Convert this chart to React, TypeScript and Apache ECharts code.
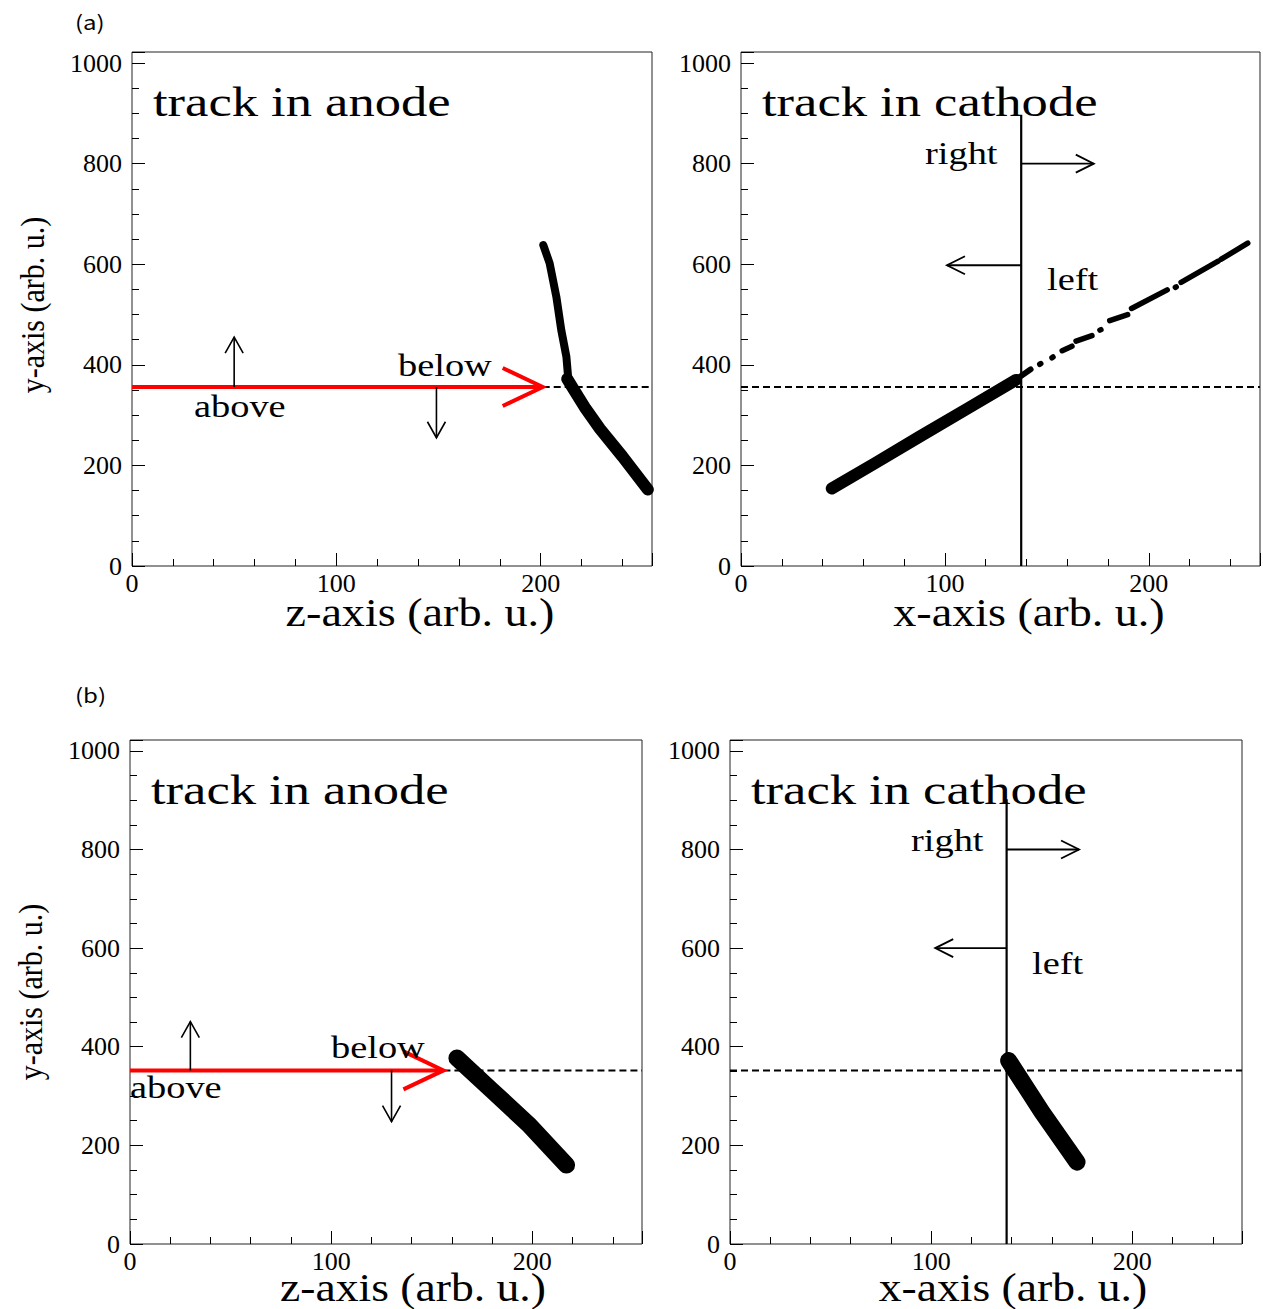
import React, { useEffect, useRef } from "react";
import * as echarts from "echarts";

// ---------- axis ranges & ticks ----------
const X_MAX = 254.5;
const Y_MAX = 1022;
const X_MINOR = 20;
const X_MAJOR = 100;
const Y_MINOR = 50;
const Y_MAJOR = 200;

// ---------- texts ----------
const panelTags = ["(a)", "(b)"];
const panelTitles = ["track in anode", "track in cathode", "track in anode", "track in cathode"];
const xTitles = ["z-axis (arb. u.)", "x-axis (arb. u.)", "z-axis (arb. u.)", "x-axis (arb. u.)"];
const yTitle = "y-axis (arb. u.)";

// ---------- cut levels / split lines ----------
const cutA = 356;
const cutB = 352;
const redTipA = 201;
const redTipB = 155.8;
const splitXA = 137.4;
const splitXB = 137.5;

// ---------- tracks (a) ----------
const anodeA_steep = [[201.3, 638], [204.4, 602], [207.7, 535], [210.1, 469], [212.6, 416], [213.4, 378]];
const anodeA_bend = [[213, 372], [216, 352], [222, 313], [229, 273], [240, 218], [252.5, 152]];
const cathodeA_dense = [[44.5, 154], [66, 205], [87.5, 257], [111, 313], [134.8, 370]];
const cathodeA_thin = [[130, 360], [136, 374], [142, 391]];
const cathodeA_sparse = [
  [146.5, 401, 147, 402.5],
  [152.5, 414, 153, 415.5],
  [157.5, 428, 162.3, 437],
  [164.3, 447, 172.1, 458],
  [176, 469, 176.5, 470],
  [180.8, 488, 189.6, 500],
  [191.5, 512, 209, 549],
  [213, 554, 213.4, 555],
  [215.8, 564, 234, 606],
  [235.5, 610, 248.5, 642],
];

// ---------- tracks (b) ----------
const anodeB = [[162.5, 377], [180, 311], [198, 243], [217, 160]];
const cathodeB = [[138.5, 372], [155, 268], [172.5, 166]];

// ---------- guide lines & arrows [x1, y1, x2, y2] ----------
const anodeA_dashed = [[redTipA, cutA, X_MAX, cutA]];
const anodeA_red = [[0, cutA, redTipA, cutA]];
const anodeA_arrows = [[50, cutA, 50, 455], [149, cutA, 149, 255]];
const cathodeA_dashed = [[0, cutA, X_MAX, cutA]];
const cathodeA_split = [[splitXA, 0, splitXA, 897]];
const cathodeA_arrows = [[splitXA, 800, 173, 800], [splitXA, 598, 101, 598]];

const anodeB_dashed = [[redTipB, cutB, X_MAX, cutB]];
const anodeB_red = [[0, cutB, redTipB, cutB]];
const anodeB_arrows = [[30, cutB, 30, 451], [130, cutB, 130, 248]];
const cathodeB_dashed = [[0, cutB, X_MAX, cutB]];
const cathodeB_split = [[splitXB, 0, splitXB, 902]];
const cathodeB_arrows = [[splitXB, 800, 173.5, 800], [splitXB, 600, 102, 600]];

// ---------- layout ----------
const GRIDS = [
  { left: 132, top: 52, width: 520, height: 514 },
  { left: 741, top: 52, width: 521, height: 514 },
  { left: 130, top: 740, width: 512, height: 504 },
  { left: 730, top: 740, width: 512, height: 504 },
];

const SERIF = "Liberation Serif";
const SANS = "Noto Sans CJK JP";

type SegStyle = { color: string; width: number; dash?: number[]; headL?: number; headW?: number; cap?: string };

function segRenderer(s: SegStyle) {
  return (_params: any, api: any) => {
    const p1 = api.coord([api.value(0), api.value(1)]);
    const p2 = api.coord([api.value(2), api.value(3)]);
    const style: any = { stroke: s.color, lineWidth: s.width, lineCap: s.cap || "butt", fill: "none" };
    if (s.dash) style.lineDash = s.dash;
    const children: any[] = [
      { type: "line", shape: { x1: p1[0], y1: p1[1], x2: p2[0], y2: p2[1] }, style },
    ];
    if (s.headL) {
      const dx = p2[0] - p1[0];
      const dy = p2[1] - p1[1];
      const len = Math.hypot(dx, dy) || 1;
      const ux = dx / len, uy = dy / len;
      const nx = -uy, ny = ux;
      const L = s.headL, W = s.headW || 8;
      children.push({
        type: "polyline",
        shape: {
          points: [
            [p2[0] - ux * L + nx * W, p2[1] - uy * L + ny * W],
            [p2[0], p2[1]],
            [p2[0] - ux * L - nx * W, p2[1] - uy * L - ny * W],
          ],
        },
        style: { stroke: s.color, lineWidth: s.width, fill: "none", lineJoin: "miter" },
      });
    }
    return { type: "group", children };
  };
}

function segSeries(gi: number, data: number[][], s: SegStyle) {
  return {
    type: "custom",
    xAxisIndex: gi * 2,
    yAxisIndex: gi * 2,
    data,
    encode: { x: [0, 2], y: [1, 3] },
    renderItem: segRenderer(s),
    silent: true,
    z: 5,
  };
}

function trackSeries(gi: number, data: number[][], width: number) {
  return {
    type: "line",
    xAxisIndex: gi * 2,
    yAxisIndex: gi * 2,
    data,
    symbol: "none",
    showSymbol: false,
    silent: true,
    clip: true,
    z: 4,
    lineStyle: { color: "#000", width, cap: "round", join: "round" },
  };
}

function xAxes(gi: number) {
  const base = {
    gridIndex: gi,
    type: "value",
    position: "bottom",
    min: 0,
    max: X_MAX,
    axisLine: { show: false },
    splitLine: { show: false },
  };
  return [
    {
      ...base,
      interval: X_MINOR,
      axisTick: { inside: true, length: 7, lineStyle: { color: "#000", width: 1 } },
      axisLabel: {
        formatter: (v: number) => (Math.abs(v % X_MAJOR) < 1e-6 ? String(v) : ""),
        fontFamily: SERIF,
        fontSize: 26,
        color: "#000",
        margin: 4,
      },
    },
    {
      ...base,
      interval: X_MAJOR,
      axisTick: { inside: true, length: 13, lineStyle: { color: "#000", width: 1 } },
      axisLabel: { show: false },
    },
  ];
}

function yAxes(gi: number) {
  const base = {
    gridIndex: gi,
    type: "value",
    position: "left",
    min: 0,
    max: Y_MAX,
    axisLine: { show: false },
    splitLine: { show: false },
  };
  return [
    {
      ...base,
      interval: Y_MINOR,
      axisTick: { inside: true, length: 7, lineStyle: { color: "#000", width: 1 } },
      axisLabel: {
        formatter: (v: number) => (Math.abs(v % Y_MAJOR) < 1e-6 ? String(v) : ""),
        fontFamily: SERIF,
        fontSize: 26,
        color: "#000",
        margin: 10,
      },
    },
    {
      ...base,
      interval: Y_MAJOR,
      axisTick: { inside: true, length: 13, lineStyle: { color: "#000", width: 1 } },
      axisLabel: { show: false },
    },
  ];
}

function txt(text: string, x: number, y: number, size: number, opts: any = {}) {
  return {
    type: "text",
    x,
    y,
    scaleX: opts.scaleX ?? 1.2,
    scaleY: opts.scaleY ?? 1,
    rotation: opts.rotation ?? 0,
    silent: true,
    z: 10,
    style: {
      text,
      fontSize: size,
      fontFamily: opts.family || SERIF,
      fill: "#000",
      textAlign: opts.align || "left",
      textVerticalAlign: "middle",
    },
  };
}

const dashedStyle: SegStyle = { color: "#000", width: 2, dash: [7, 4] };
const redStyle: SegStyle = { color: "#ff0000", width: 4, headL: 40, headW: 19 };
const smallArrowStyle: SegStyle = { color: "#000", width: 1.6, headL: 16, headW: 9 };
const sideArrowStyle: SegStyle = { color: "#000", width: 1.8, headL: 18, headW: 9 };
const splitStyle: SegStyle = { color: "#000", width: 2.2 };
const dotStyle: SegStyle = { color: "#000", width: 5.5, cap: "round" };

const option: any = {
  animation: false,
  backgroundColor: "#fff",
  grid: GRIDS.map((g) => ({ ...g, show: true, borderColor: "#222", borderWidth: 1, containLabel: false })),
  xAxis: [0, 1, 2, 3].flatMap((gi) => xAxes(gi)),
  yAxis: [0, 1, 2, 3].flatMap((gi) => yAxes(gi)),
  series: [
    // (a) anode
    trackSeries(0, anodeA_steep, 8),
    trackSeries(0, anodeA_bend, 12),
    segSeries(0, anodeA_dashed, dashedStyle),
    segSeries(0, anodeA_red, redStyle),
    segSeries(0, anodeA_arrows, smallArrowStyle),
    // (a) cathode
    trackSeries(1, cathodeA_dense, 12),
    trackSeries(1, cathodeA_thin, 6),
    segSeries(1, cathodeA_sparse, dotStyle),
    segSeries(1, cathodeA_dashed, dashedStyle),
    segSeries(1, cathodeA_split, splitStyle),
    segSeries(1, cathodeA_arrows, sideArrowStyle),
    // (b) anode
    trackSeries(2, anodeB, 17),
    segSeries(2, anodeB_dashed, dashedStyle),
    segSeries(2, anodeB_red, redStyle),
    segSeries(2, anodeB_arrows, smallArrowStyle),
    // (b) cathode
    trackSeries(3, cathodeB, 17),
    segSeries(3, cathodeB_dashed, dashedStyle),
    segSeries(3, cathodeB_split, splitStyle),
    segSeries(3, cathodeB_arrows, sideArrowStyle),
  ],
  graphic: [
    txt(panelTags[0], 75, 21, 20, { family: SANS, scaleX: 1.2 }),
    txt(panelTags[1], 75, 694, 20, { family: SANS, scaleX: 1.2 }),
    txt(panelTitles[0], 153, 101, 43, { scaleX: 1.222 }),
    txt(panelTitles[1], 762, 101, 43, { scaleX: 1.222 }),
    txt(panelTitles[2], 151, 789, 43, { scaleX: 1.222 }),
    txt(panelTitles[3], 751, 789, 43, { scaleX: 1.222 }),
    txt("below", 398, 366, 32),
    txt("above", 194, 407, 32),
    txt("right", 925, 154, 32),
    txt("left", 1047, 280, 32),
    txt("below", 331, 1048, 32),
    txt("above", 130, 1088, 32),
    txt("right", 911, 841, 32),
    txt("left", 1032, 964, 32),
    txt(xTitles[0], 420, 612, 41, { align: "center", scaleX: 1.125 }),
    txt(xTitles[1], 1029, 612, 41, { align: "center", scaleX: 1.125 }),
    txt(xTitles[2], 413, 1287, 40, { align: "center", scaleX: 1.14 }),
    txt(xTitles[3], 1013, 1287, 40, { align: "center", scaleX: 1.14 }),
    txt(yTitle, 32, 305, 30, { align: "center", rotation: Math.PI / 2, scaleX: 1, scaleY: 1.15 }),
    txt(yTitle, 30, 992, 30, { align: "center", rotation: Math.PI / 2, scaleX: 1, scaleY: 1.15 }),
  ],
};

export default function App() {
  const ref = useRef<HTMLDivElement>(null);
  useEffect(() => {
    if (!ref.current) return;
    const chart = echarts.init(ref.current, null, { renderer: "svg" });
    chart.setOption(option);
    return () => chart.dispose();
  }, []);
  return (
    <div
      ref={ref}
      style={{ position: "absolute", left: 0, top: 0, width: 1263, height: 1309, background: "#fff" }}
    />
  );
}
